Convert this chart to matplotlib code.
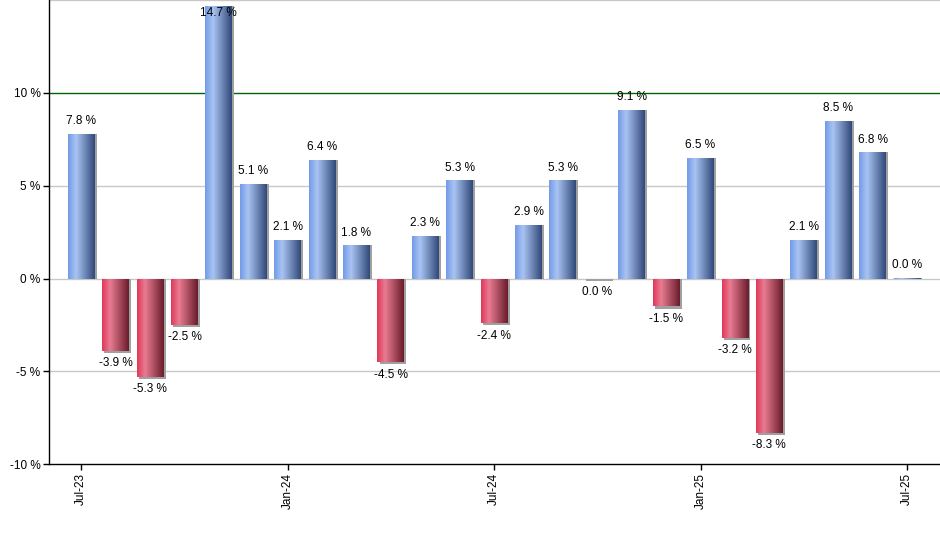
import matplotlib
matplotlib.use('Agg')
import matplotlib.pyplot as plt
import numpy as np
from matplotlib.colors import to_rgb

plt.rcParams['font.family'] = ['Liberation Sans', 'DejaVu Sans']

months = ['Jul-23', 'Aug-23', 'Sep-23', 'Oct-23', 'Nov-23', 'Dec-23',
          'Jan-24', 'Feb-24', 'Mar-24', 'Apr-24', 'May-24', 'Jun-24',
          'Jul-24', 'Aug-24', 'Sep-24', 'Oct-24', 'Nov-24', 'Dec-24',
          'Jan-25', 'Feb-25', 'Mar-25', 'Apr-25', 'May-25', 'Jun-25',
          'Jul-25']
returns = [7.8, -3.9, -5.3, -2.5, 14.7, 5.1,
           2.1, 6.4, 1.8, -4.5, 2.3, 5.3,
           -2.4, 2.9, 5.3, -0.04, 9.1, -1.5,
           6.5, -3.2, -8.3, 2.1, 8.5, 6.8,
           0.04]
tick_months = ['Jul-23', 'Jan-24', 'Jul-24', 'Jan-25', 'Jul-25']
y_ticks = [-10, -5, 0, 5, 10]


def gradient(c_left, c_mid, c_right, n=64):
    # horizontal shading: left -> light spot -> dark right edge
    a, b, c = np.array(to_rgb(c_left)), np.array(to_rgb(c_mid)), np.array(to_rgb(c_right))
    t = np.linspace(0, 1, n)
    out = np.zeros([1, n, 3])
    for i, tt in enumerate(t):
        if tt < 0.3:
            f = tt / 0.3
            out[0, i] = a + (b - a) * f
        else:
            f = (tt - 0.3) / 0.7
            out[0, i] = b + (c - b) * f
    return out


blue_grad = gradient('#739be8', '#a9c4f3', '#31497a')
red_grad = gradient('#e0395a', '#e97c92', '#6b1c2c')

fig = plt.figure(figsize=[9.4, 5.5], dpi=100)
ax = fig.add_axes([0.052, 0.156, 0.948, 0.844])

x = np.arange(len(months))
w = 0.78
ymin, ymax = -10, 15

for yv in [-5, 0, 5, 15]:
    ax.axhline(yv, color='#c8c8c8', lw=1, zorder=0)
ax.axhline(10, color='#006400', lw=1, zorder=0.5)

for xi, v in zip(x, returns):
    # shadow
    sh = v - 0.12 if v < 0 else v
    ax.bar(xi + 0.06, sh, width=w, color='#a0a0a0', zorder=1, linewidth=0)
    bar = ax.bar(xi, v, width=w, color='none', linewidth=0, zorder=2)[0]
    grad = blue_grad if v >= 0 else red_grad
    im = ax.imshow(grad, aspect='auto', extent=[xi - w / 2, xi + w / 2, min(0, v), max(0, v)],
                   zorder=2, interpolation='bilinear')
    im.set_clip_path(bar)

    txt = f'{v:.1f} %'.replace('-0.0', '0.0')
    if v >= 0:
        ty = v + 0.35
        va = 'bottom'
        if ty + 0.9 > ymax:
            ty = ymax - 0.4
            va = 'top'
    else:
        ty = v - 0.35
        va = 'top'
    ax.text(xi, ty, txt, ha='center', va=va, fontsize=8.5, color='black', zorder=3)

ax.set_xlim(-0.94, 24.96)
ax.set_ylim(ymin, ymax)
ax.set_xticks([months.index(m) for m in tick_months])
ax.set_xticklabels(tick_months, rotation=90, fontsize=8.5)
ax.set_yticks(y_ticks)
ax.set_yticklabels([f'{t} %' for t in y_ticks], fontsize=8.5)
ax.tick_params(axis='both', length=4, width=1, color='black', pad=2)

for s in ['top', 'right']:
    ax.spines[s].set_visible(False)
ax.spines['left'].set_linewidth(1)
ax.spines['bottom'].set_linewidth(1)

fig.savefig('out.png', dpi=100)
plt.close(fig)
